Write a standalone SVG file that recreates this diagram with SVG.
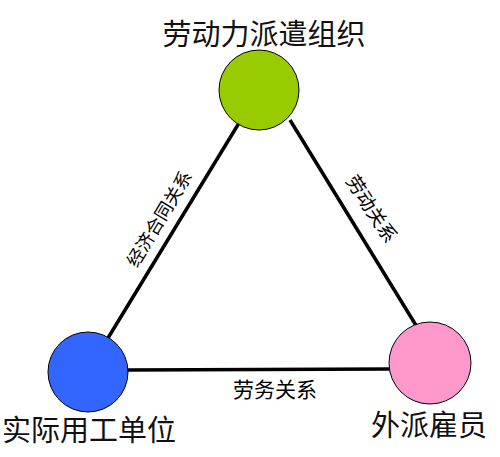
<svg xmlns="http://www.w3.org/2000/svg" width="500" height="457" viewBox="0 0 500 457">
<style>
.node{stroke:#000;stroke-width:1}
.big{font-family:"Noto Sans CJK SC","Noto Sans",sans-serif;font-size:29px;fill:#111;text-anchor:middle}
.lbl{font-family:"Noto Sans CJK SC","Noto Sans",sans-serif;fill:#000;text-anchor:middle;dominant-baseline:central}
.edge{stroke:#000;stroke-width:3.5;fill:none}
</style>
<rect width="500" height="457" fill="#fff"/>
<g id="connectors">
<line class="edge" x1="108" y1="338" x2="239" y2="123"/>
<line class="edge" x1="290" y1="120" x2="417" y2="327"/>
<line class="edge" x1="127" y1="370" x2="390" y2="369"/>
<text class="lbl" font-size="18" transform="translate(158,218) rotate(-59)">经济合同关系</text>
<text class="lbl" font-size="19" transform="translate(373,208) rotate(57)">劳动关系</text>
<text class="lbl" font-size="21" x="275" y="388">劳务关系</text>
</g>
<g id="node-dispatch">
<circle class="node" cx="259" cy="90" r="40" fill="#99CC00"/>
<text class="big" x="264" y="45">劳动力派遣组织</text>
</g>
<g id="node-employer">
<circle class="node" cx="88" cy="372" r="40" fill="#3366FF"/>
<text class="big" x="89" y="441">实际用工单位</text>
</g>
<g id="node-worker">
<circle class="node" cx="430" cy="363" r="41" fill="#FF99CC"/>
<text class="big" x="429" y="436">外派雇员</text>
</g>
</svg>
